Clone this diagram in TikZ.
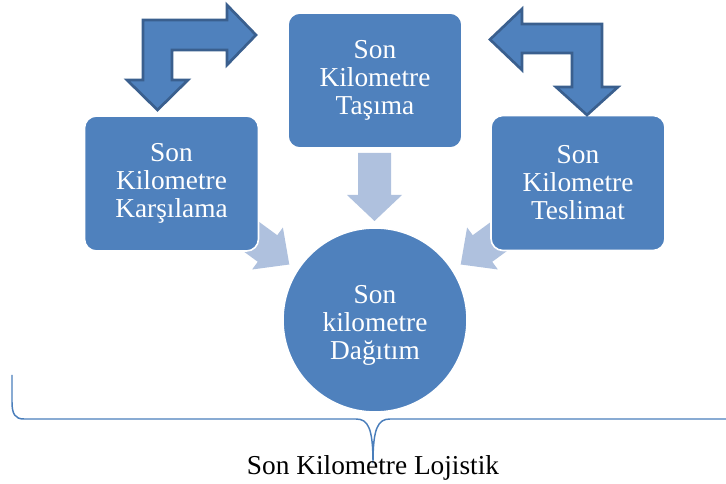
\documentclass[tikz,border=0pt]{standalone}
\usepackage{fontspec}
\setmainfont{Liberation Serif}
\definecolor{boxblue}{HTML}{4F81BD}
\definecolor{edgeblue}{HTML}{3A5F8E}
\definecolor{paleblue}{HTML}{AFC1DE}
\definecolor{bracecol}{HTML}{4A7EBB}
\begin{document}
\begin{tikzpicture}[x=0.75pt,y=-0.75pt,
  labelfont/.style={font=\fontsize{20.5}{21}\selectfont},
  stage/.style={labelfont, fill=boxblue, draw=white, line width=1.2pt,
    rounded corners=9pt, minimum width=130.5pt, minimum height=101.25pt,
    inner sep=0pt, align=center, text=white},
  hub/.style={circle, fill=boxblue, draw=white, line width=1.2pt,
    minimum size=138pt, inner sep=0pt},
  hubtext/.style={labelfont, inner sep=0pt, align=center, text=white},
  bentarrow/.style={fill=boxblue, draw=edgeblue, line width=2pt, line join=miter},
  feed/.style={fill=paleblue, draw=none}]
\useasboundingbox (0,0) rectangle (726,484);

% pale feed arrows (drawn first, their shafts run under the boxes)
\fill[feed] (221.45,235.2) -- (257.75,261.8) -- (252.1,269.5)
  -- (289.3,264.5) -- (282.9,227.5) -- (277.25,235.2) -- (240.95,208.6) -- cycle;
\fill[feed] (528.55,235.2) -- (492.25,261.8) -- (497.9,269.5)
  -- (460.7,264.5) -- (467.1,227.5) -- (472.75,235.2) -- (509.05,208.6) -- cycle;
\fill[feed] (358,153) -- (391,153) -- (391,195) -- (402,195) -- (374.5,221)
  -- (347,195) -- (358,195) -- cycle;

% the four stages
\node[stage] (move)    at (375,80.5)  {Son\\Kilometre\\Taşıma};
\node[stage] (receive) at (171.5,183.5) {Son\\Kilometre\\Karşılama};
\node[stage] (deliver) at (578,183)   {Son\\Kilometre\\Teslimat};
\node[hub] (spread) at (375,320) {};
\node[hubtext] (spreadtext) at (375,325) {Son\\kilometre\\Dağıtım};

% bent two-way arrows between the upper boxes
\draw[bentarrow] (143,20) -- (227,20) -- (227,5) -- (256,35) -- (227,65)
  -- (227,50) -- (172,50) -- (172,80) -- (188,80) -- (157.5,110)
  -- (127,80) -- (143,80) -- cycle;
\draw[bentarrow] (602,24) -- (522,24) -- (522,9) -- (490,39.5) -- (522,70)
  -- (522,53) -- (572,53) -- (572,87) -- (556,87) -- (587,115)
  -- (618,87) -- (602,87) -- cycle;

% brace gathering everything
\coordinate (braceL) at (12,375);
\coordinate (braceR) at (726,419);
\coordinate (braceTip) at (373,463);
\draw[bracecol, line width=1.1pt] (braceL) -- (12,402)
  .. controls (12,414) and (15,419) .. (24,419) -- (356,419)
  .. controls (368,419) and (373,428) .. (braceTip)
  .. controls (373,428) and (378,419) .. (390,419) -- (braceR);

\node[labelfont, anchor=base, text=black] (caption) at (373,475) {Son Kilometre Lojistik};
\end{tikzpicture}
\end{document}
